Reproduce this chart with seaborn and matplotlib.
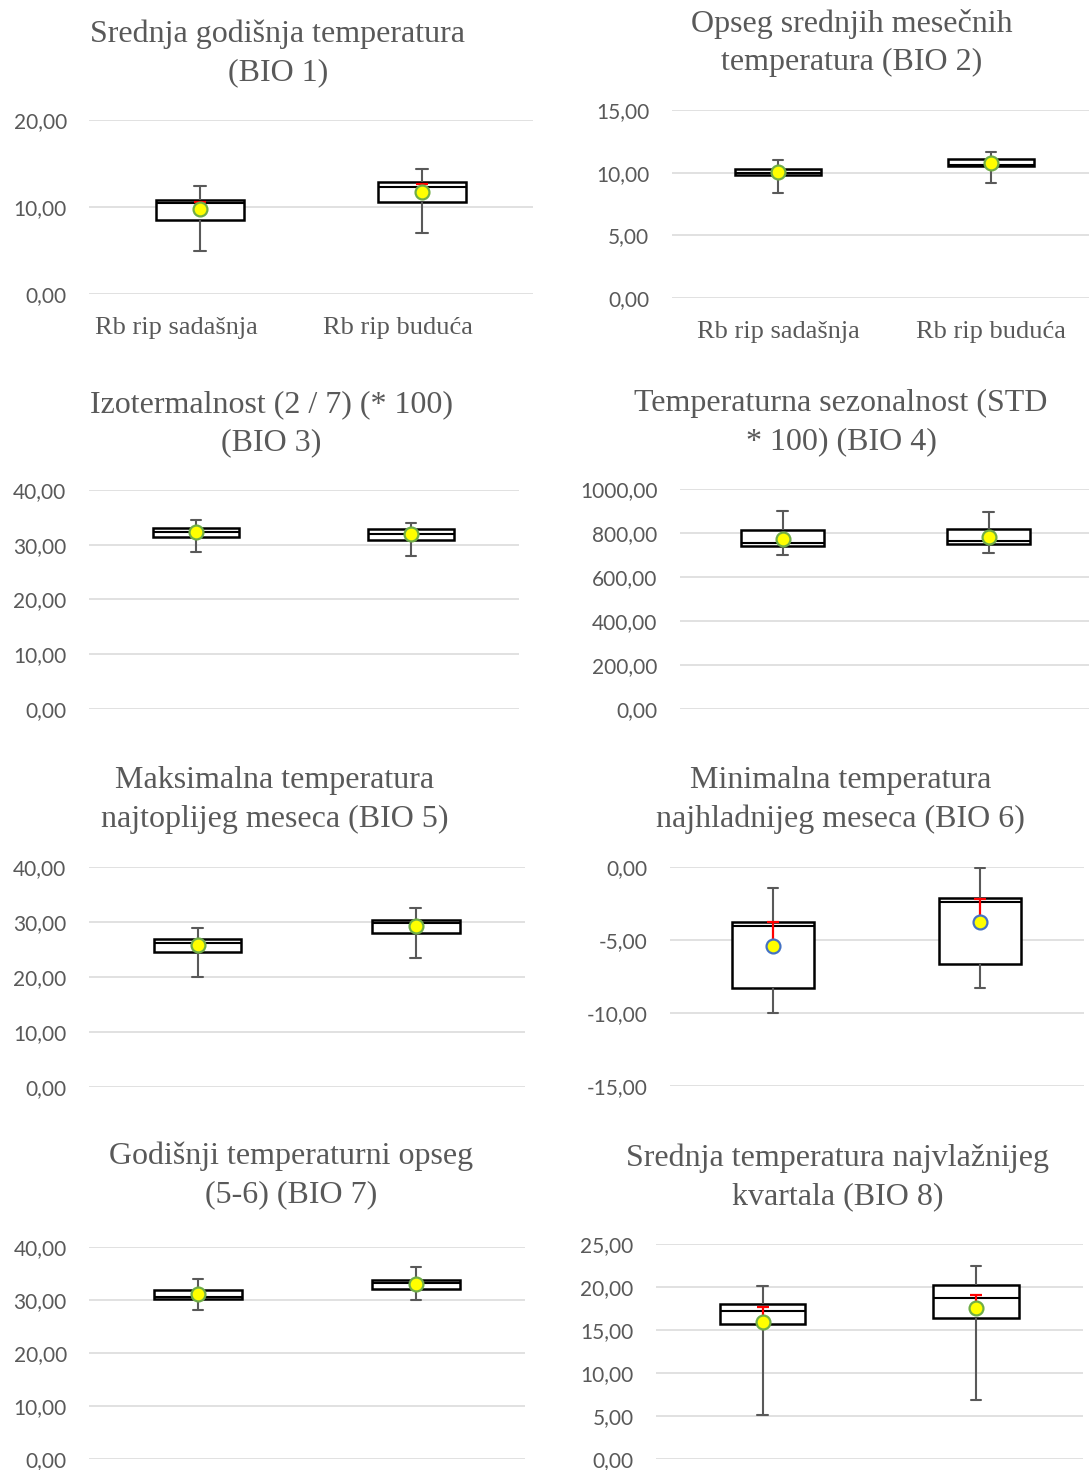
import numpy as np
import pandas as pd
import matplotlib
matplotlib.use("Agg")
import matplotlib.pyplot as plt
import matplotlib.transforms as mtransforms
from matplotlib.ticker import FixedLocator, FuncFormatter
import seaborn as sns

# ---------------- data ----------------
categories = ["Rb rip sadašnja", "Rb rip buduća"]

titles = [
    "Srednja godišnja temperatura\n(BIO 1)",
    "Opseg srednjih mesečnih\ntemperatura (BIO 2)",
    "Izotermalnost (2 / 7) (* 100)\n(BIO 3)",
    "Temperaturna sezonalnost (STD\n* 100) (BIO 4)",
    "Maksimalna temperatura\nnajtoplijeg meseca (BIO 5)",
    "Minimalna temperatura\nnajhladnijeg meseca (BIO 6)",
    "Godišnji temperaturni opseg\n(5-6) (BIO 7)",
    "Srednja temperatura najvlažnijeg\nkvartala (BIO 8)",
]

whisker_low = [[4.94, 7.01], [8.38, 9.20], [28.6, 27.9], [700.0, 710.5],
               [19.95, 23.44], [-10.0, -8.30], [28.1, 30.05], [5.08, 6.85]]
quartile_1 = [[8.50, 10.57], [9.84, 10.51], [31.36, 30.87], [739.5, 748.6],
              [24.58, 28.08], [-8.32, -6.62], [30.2, 32.1], [15.72, 16.42]]
medians = [[10.46, 12.30], [9.95, 10.60], [32.27, 31.9], [756.0, 763.6],
           [26.2, 29.9], [-4.01, -2.42], [30.5, 33.3], [17.2, 18.68]]
quartile_3 = [[10.80, 12.87], [10.32, 11.12], [33.1, 32.88], [815.0, 819.5],
              [26.87, 30.44], [-3.74, -2.15], [31.94, 33.8], [17.98, 20.2]]
whisker_high = [[12.41, 14.37], [11.0, 11.68], [34.6, 33.9], [898.6, 895.0],
                [28.86, 32.5], [-1.45, -0.04], [34.0, 36.2], [20.15, 22.45]]
means = [[9.77, 11.72], [10.06, 10.77], [32.3, 31.9], [774.0, 783.0],
         [25.73, 29.3], [-5.39, -3.78], [31.1, 33.1], [15.92, 17.6]]
error_top = [[10.57, 12.64], [10.15, 10.85], [32.5, 32.1], [780.0, 789.0],
             [26.0, 29.6], [-3.78, -2.18], [31.3, 33.3], [17.67, 19.1]]

y_min = [0, 0, 0, 0, 0, -15, 0, 0]
y_max = [20, 15, 40, 1000, 40, 0, 40, 25]
y_step = [10, 5, 10, 200, 10, 5, 10, 5]

# ---------------- layout (pixels) ----------------
W, H = 1089, 1470
axes_px = [  # x0, x1, ytop, ybottom
    (89, 533, 120, 294),
    (671.5, 1097.5, 110, 298),
    (88.5, 518.5, 490, 709),
    (679.5, 1091.5, 489, 709),
    (88.6, 525, 867, 1087),
    (669.5, 1083.5, 867, 1086),
    (89, 525, 1247, 1459),
    (655.75, 1082.75, 1244, 1459),
]
title_px = [(278, 53), (852, 43), (271, 424), (841, 423),
            (274.5, 800), (840.5, 800), (291.5, 1175), (838, 1177)]
marker_edge = ["#70AD47"] * 5 + ["#4472C4"] + ["#70AD47"] * 2

GREY = "#595959"

sns.set_theme(style="white")
plt.rcParams["font.family"] = ["Lato", "DejaVu Sans"]

fig = plt.figure(figsize=(W / 100, H / 100), dpi=100)
fig.patch.set_facecolor("white")

fmt = FuncFormatter(lambda v, p: f"{v:.2f}".replace(".", ","))

for i in range(8):
    x0, x1, yt, yb = axes_px[i]
    ax = fig.add_axes([x0 / W, 1 - yb / H, (x1 - x0) / W, (yb - yt) / H])
    vals = []
    cats = []
    for j, c in enumerate(categories):
        vals += [whisker_low[i][j], quartile_1[i][j], medians[i][j],
                 quartile_3[i][j], whisker_high[i][j]]
        cats += [c] * 5
    df = pd.DataFrame({"kategorija": cats, "vrednost": vals})
    sns.boxplot(data=df, x="kategorija", y="vrednost", order=categories, ax=ax,
                whis=(0, 100), width=0.4, color="white", linecolor="black",
                linewidth=1.8, showfliers=False, capwidths=0.05,
                whiskerprops=dict(color=GREY, linewidth=1.5),
                capprops=dict(color=GREY, linewidth=1.5),
                medianprops=dict(color="black", linewidth=1.5),
                zorder=2)
    pos = np.arange(len(categories))
    m = np.array(means[i])
    up = np.array(error_top[i]) - m
    ax.errorbar(pos, m, yerr=[np.zeros_like(up), up], fmt="none",
                ecolor="#FF0000", elinewidth=1.6, capsize=4.5, capthick=1.6,
                zorder=3)
    sns.scatterplot(x=pos, y=m, ax=ax, s=100, color="#FFFF00",
                    edgecolor=marker_edge[i], linewidth=1.6, zorder=4,
                    legend=False)

    ax.set_xlim(-0.5, 1.5)
    ax.set_ylim(y_min[i], y_max[i])
    ax.yaxis.set_major_locator(FixedLocator(np.arange(y_min[i], y_max[i] + y_step[i] / 2, y_step[i])))
    ax.yaxis.set_major_formatter(fmt)
    ax.set_xlabel("")
    ax.set_ylabel("")
    ax.grid(False)
    ax.yaxis.grid(True, color="#D9D9D9", linewidth=1.1)
    ax.set_axisbelow(True)
    for s in ax.spines.values():
        s.set_visible(False)
    ax.tick_params(axis="y", length=0, pad=16, labelsize=15,
                   labelcolor=GREY, labelfontfamily="Lato")
    if i < 2:
        ax.set_xticks(pos)
        ax.set_xticklabels(categories)
        ax.tick_params(axis="x", length=0, pad=16.5, labelsize=19,
                       labelcolor=GREY, labelfontfamily="Liberation Serif")
        if i == 0:
            off = mtransforms.ScaledTranslation(-0.24, 0, fig.dpi_scale_trans)
            for lbl in ax.get_xticklabels():
                lbl.set_transform(lbl.get_transform() + off)
    else:
        ax.set_xticks(pos)
        ax.set_xticklabels(["", ""])
        ax.tick_params(axis="x", length=0)
    for coll in ax.collections:
        coll.set_clip_on(False)

    tx, ty = title_px[i]
    fig.text(tx / W, 1 - ty / H, titles[i], ha="center", va="center",
             fontsize=23, color=GREY, family="Liberation Serif",
             linespacing=1.42)

fig.savefig("out.png", dpi=100, facecolor="white")
